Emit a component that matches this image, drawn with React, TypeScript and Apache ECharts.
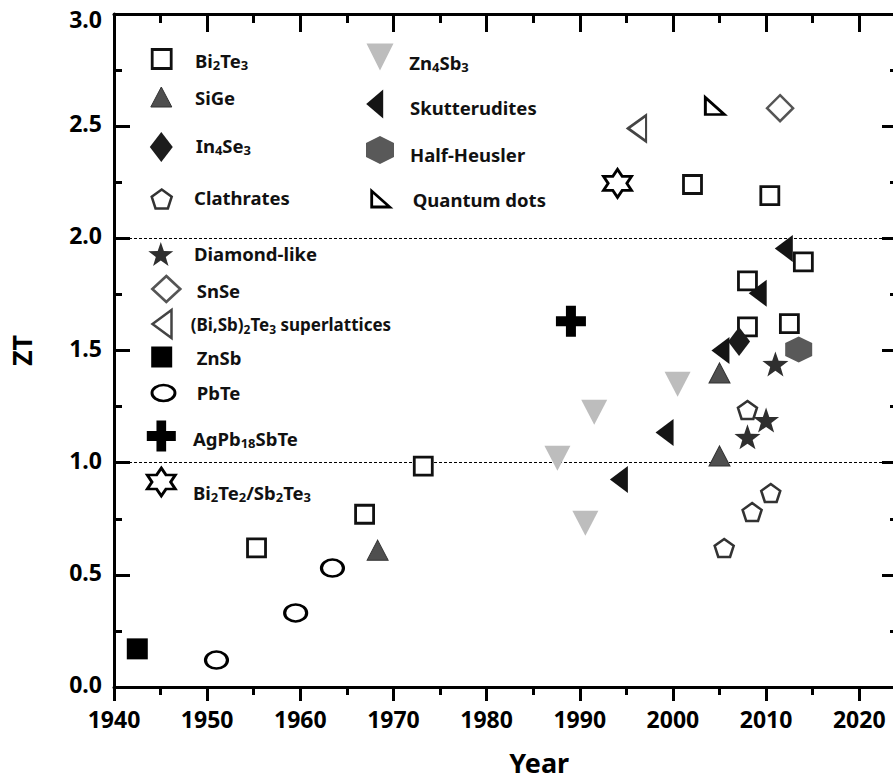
import React, { useEffect, useRef } from "react";
import * as echarts from "echarts";

const FONT = '"Noto Sans", "Open Sans", "DejaVu Sans", sans-serif';

// ---------------- data ----------------
const xTickLabels = [1940, 1950, 1960, 1970, 1980, 1990, 2000, 2010, 2020];
const yTickLabels = ["0.0", "0.5", "1.0", "1.5", "2.0", "2.5", "3.0"];
const refLines = [1.0, 2.0];

const bi2te3Year = [1955.3, 1966.9, 1973.2, 2002.1, 2010.4, 2008.0, 2014.0, 2008.0, 2012.5];
const bi2te3ZT = [0.62, 0.77, 0.985, 2.24, 2.19, 1.81, 1.895, 1.605, 1.62];
const siGeYear = [1968.3, 2005.0, 2005.0];
const siGeZT = [0.61, 1.4, 1.03];
const in4se3Year = [2007.1];
const in4se3ZT = [1.54];
const clathratesYear = [2005.5, 2008.5, 2010.5, 2008.0];
const clathratesZT = [0.62, 0.78, 0.865, 1.235];
const diamondLikeYear = [2008.0, 2010.0, 2011.0];
const diamondLikeZT = [1.115, 1.19, 1.44];
const snSeYear = [2011.5];
const snSeZT = [2.58];
const biSbTeSLYear = [1996.15];
const biSbTeSLZT = [2.49];
const znSbYear = [1942.5];
const znSbZT = [0.17];
const pbTeYear = [1951.0, 1959.5, 1963.45];
const pbTeZT = [0.12, 0.33, 0.53];
const agPbSbTeYear = [1989.05];
const agPbSbTeZT = [1.63];
const biTeSbTeYear = [1994.05];
const biTeSbTeZT = [2.245];
const zn4sb3Year = [1987.6, 1990.6, 1991.55, 2000.5];
const zn4sb3ZT = [1.02, 0.73, 1.225, 1.35];
const skutteruditeYear = [1994.2, 1999.1, 2005.1, 2009.1, 2011.9];
const skutteruditeZT = [0.925, 1.135, 1.5, 1.755, 1.955];
const halfHeuslerYear = [2013.5];
const halfHeuslerZT = [1.505];
const quantumDotYear = [2004.5];
const quantumDotZT = [2.59];

// ---------------- symbol outlines (path, natural width, natural height) ----------------
type Shape = { d: string; w: number; h: number };
const S: Record<string, Shape> = {
  square: { d: "M0,0L19,0L19,19L0,19Z", w: 19, h: 19 },
  triUp: { d: "M10.5,0L21,20L0,20Z", w: 21, h: 20 },
  diamond: { d: "M11,0L22,15L11,30L0,15Z", w: 22, h: 30 },
  pentagon: { d: "M9.51,0L19.02,6.91L15.39,18.09L3.63,18.09L0,6.91Z", w: 19.02, h: 18.09 },
  star: { d: "M9.51,0L11.86,6.76L19.02,6.91L13.31,11.24L15.39,18.09L9.51,14L3.63,18.09L5.71,11.24L0,6.91L7.16,6.76Z", w: 19.02, h: 18.09 },
  diamondSq: { d: "M13,0L26,13L13,26L0,13Z", w: 26, h: 26 },
  triLeftH: { d: "M0,14L19,0L19,28Z", w: 19, h: 28 },
  ellipse: { d: "M0,9A12,9 0 1 1 24,9A12,9 0 1 1 0,9Z", w: 24, h: 18 },
  plus: { d: "M10,0L20,0L20,10.5L30,10.5L30,20.5L20,20.5L20,31L10,31L10,20.5L0,20.5L0,10.5L10,10.5Z", w: 30, h: 31 },
  hexagram: { d: "M8.66,0L11.55,5L17.32,5L14.43,10L17.32,15L11.55,15L8.66,20L5.77,15L0,15L2.89,10L0,5L5.77,5Z", w: 17.32, h: 20 },
  triDown: { d: "M0,0L27,0L13.5,26Z", w: 27, h: 26 },
  triLeft: { d: "M0,14L17,0L17,28Z", w: 17, h: 28 },
  hexagon: { d: "M13,0L26,7L26,21L13,28L0,21L0,7Z", w: 26, h: 28 },
  triRight: { d: "M0,0L0,18L20,18Z", w: 20, h: 18 },
};

type Def = {
  name: string; label: string; years: number[]; zt: number[];
  shape: Shape; size: number[]; fill: string; stroke?: string; lw?: number;
  small?: boolean;
  // legend: icon centre, icon size, text start x, text centre y
  lg: { cx: number; cy: number; w: number; h: number; tx: number; ty: number };
};

const defs: Def[] = [
  { name: "Bi2Te3", label: "Bi{s|2}Te{s|3}", years: bi2te3Year, zt: bi2te3ZT, shape: S.square, size: [18, 18], fill: "#fff", stroke: "#111", lw: 2.8, lg: { cx: 161.7, cy: 59, w: 19, h: 19, tx: 195, ty: 60 } },
  { name: "SiGe", label: "SiGe", years: siGeYear, zt: siGeZT, shape: S.triUp, size: [21, 20], fill: "#4f4f4f", stroke: "#333", lw: 1, lg: { cx: 161.3, cy: 97, w: 21, h: 20, tx: 195, ty: 97 } },
  { name: "In4Se3", label: "In{s|4}Se{s|3}", years: in4se3Year, zt: in4se3ZT, shape: S.diamond, size: [22, 29], fill: "#1c1c1c", lg: { cx: 161.3, cy: 147, w: 23, h: 30, tx: 195.7, ty: 145 } },
  { name: "Clathrates", label: "Clathrates", years: clathratesYear, zt: clathratesZT, shape: S.pentagon, size: [19, 18], fill: "#fff", stroke: "#333", lw: 2.5, lg: { cx: 161.7, cy: 199, w: 20, h: 19, tx: 194, ty: 197 } },
  { name: "Diamond-like", label: "Diamond-like", years: diamondLikeYear, zt: diamondLikeZT, shape: S.star, size: [26, 25], fill: "#2f2f2f", lg: { cx: 160.8, cy: 254, w: 25, h: 24, tx: 194, ty: 253 } },
  { name: "SnSe", label: "SnSe", years: snSeYear, zt: snSeZT, shape: S.diamondSq, size: [26, 26], fill: "#fff", stroke: "#555", lw: 2.5, lg: { cx: 166.3, cy: 289, w: 28, h: 26, tx: 196.7, ty: 290 } },
  { name: "(Bi,Sb)2Te3 superlattices", label: "(Bi,Sb){s|2}Te{s|3} superlattices", small: true, years: biSbTeSLYear, zt: biSbTeSLZT, shape: S.triLeftH, size: [18, 26], fill: "#fff", stroke: "#444", lw: 2.5, lg: { cx: 162, cy: 324, w: 19, h: 28, tx: 190.7, ty: 324 } },
  { name: "ZnSb", label: "ZnSb", years: znSbYear, zt: znSbZT, shape: S.square, size: [21, 21], fill: "#000", lg: { cx: 161.7, cy: 357, w: 21, h: 21, tx: 196.7, ty: 357.5 } },
  { name: "PbTe", label: "PbTe", years: pbTeYear, zt: pbTeZT, shape: S.ellipse, size: [22, 17], fill: "#fff", stroke: "#000", lw: 2.8, lg: { cx: 163.5, cy: 393, w: 23, h: 16, tx: 196.7, ty: 392.5 } },
  { name: "AgPb18SbTe", label: "AgPb{s|18}SbTe", years: agPbSbTeYear, zt: agPbSbTeZT, shape: S.plus, size: [30, 31], fill: "#000", lg: { cx: 161.3, cy: 436, w: 29, h: 31, tx: 193, ty: 438 } },
  { name: "Bi2Te2/Sb2Te3", label: "Bi{s|2}Te{s|2}/Sb{s|2}Te{s|3}", years: biTeSbTeYear, zt: biTeSbTeZT, shape: S.hexagram, size: [28, 28], fill: "#fff", stroke: "#000", lw: 2.8, lg: { cx: 161.3, cy: 482, w: 28, h: 28, tx: 193, ty: 492 } },
  { name: "Zn4Sb3", label: "Zn{s|4}Sb{s|3}", years: zn4sb3Year, zt: zn4sb3ZT, shape: S.triDown, size: [26, 25], fill: "#bdbdbd", lg: { cx: 380, cy: 57, w: 27, h: 27, tx: 409.3, ty: 62 } },
  { name: "Skutterudites", label: "Skutterudites", years: skutteruditeYear, zt: skutteruditeZT, shape: S.triLeft, size: [18, 27], fill: "#141414", lg: { cx: 374.7, cy: 104, w: 17, h: 29, tx: 410, ty: 107 } },
  { name: "Half-Heusler", label: "Half-Heusler", years: halfHeuslerYear, zt: halfHeuslerZT, shape: S.hexagon, size: [27, 26], fill: "#595959", lg: { cx: 380, cy: 150, w: 28, h: 28, tx: 410, ty: 154 } },
  { name: "Quantum dots", label: "Quantum dots", years: quantumDotYear, zt: quantumDotZT, shape: S.triRight, size: [19, 17], fill: "#fff", stroke: "#000", lw: 2.8, lg: { cx: 380.7, cy: 199, w: 18, h: 16, tx: 412.7, ty: 199 } },
];

// register legend icon shapes once
let registered = false;
function registerIcons() {
  if (registered) return;
  defs.forEach((d, i) => {
    echarts.graphic.registerShape("lgIcon" + i, echarts.graphic.extendPath(d.shape.d, {}));
  });
  registered = true;
}

const axisFont = { color: "#000", fontSize: 23, fontWeight: "bold" as const, fontFamily: FONT };
const black3 = { color: "#000", width: 3 };

export default function App() {
  const ref = useRef<HTMLDivElement>(null);
  useEffect(() => {
    if (!ref.current) return;
    registerIcons();
    const chart = echarts.init(ref.current, undefined, { renderer: "svg" });

    const legendGraphics: any[] = [];
    defs.forEach((d, i) => {
      const fs = d.small ? 17 : 18.5;
      legendGraphics.push({
        type: "lgIcon" + i,
        x: d.lg.cx - d.lg.w / 2,
        y: d.lg.cy - d.lg.h / 2,
        scaleX: d.lg.w / d.shape.w,
        scaleY: d.lg.h / d.shape.h,
        silent: true,
        style: {
          fill: d.fill,
          stroke: d.stroke || null,
          lineWidth: d.stroke ? (d.lw as number) : 0,
          strokeNoScale: true,
        },
      });
      legendGraphics.push({
        type: "text",
        x: d.lg.tx,
        y: d.lg.ty,
        silent: true,
        style: {
          text: d.label,
          fill: "#111",
          fontSize: fs,
          fontWeight: "bold",
          fontFamily: FONT,
          align: "left",
          verticalAlign: "middle",
          lineHeight: 18,
          rich: {
            s: { fill: "#111", fontSize: Math.round(fs * 0.7), fontWeight: "bold", fontFamily: FONT, lineHeight: 8, padding: [10, 0, 0, 0] },
          },
        },
      });
    });

    const series: any[] = defs.map((d, i) => ({
      type: "scatter",
      name: d.name,
      xAxisIndex: 0,
      yAxisIndex: 0,
      symbol: "path://" + d.shape.d,
      symbolSize: d.size,
      data: d.years.map((y, k) => [y, d.zt[k]]),
      itemStyle: {
        color: d.fill,
        borderColor: d.stroke || d.fill,
        borderWidth: d.stroke ? d.lw : 0,
        opacity: 1,
      },
      z: 3,
      silent: true,
      ...(i === 0
        ? {
            markLine: {
              silent: true,
              symbol: ["none", "none"],
              label: { show: false },
              lineStyle: { color: "#000", width: 1.2, type: [3, 2] },
              data: refLines.map((v) => ({ yAxis: v })),
              z: 1,
            },
          }
        : {}),
    }));

    const lastY = yTickLabels.length - 1;

    chart.setOption({
      animation: false,
      backgroundColor: "#fff",
      grid: { left: 112, top: 14, width: 840.4, height: 677, containLabel: false },
      graphic: legendGraphics,
      xAxis: [
        {
          type: "value",
          position: "bottom",
          min: 1940,
          max: 2030,
          interval: 10,
          name: "Year",
          nameLocation: "middle",
          nameGap: 62,
          nameTextStyle: { color: "#000", fontSize: 27, fontWeight: "bold", fontFamily: FONT, padding: [0, 0, 0, 12] },
          axisLine: { onZero: false, lineStyle: black3 },
          axisTick: { inside: false, length: 14, lineStyle: black3 },
          minorTick: { show: true, splitNumber: 2, length: 8, lineStyle: black3 },
          splitLine: { show: false },
          axisLabel: {
            ...axisFont,
            margin: 20,
            formatter: (v: number) => (xTickLabels.includes(v) ? String(v) : ""),
          },
        },
        {
          type: "value",
          position: "top",
          min: 1940,
          max: 2030,
          interval: 10,
          axisLine: { onZero: false, lineStyle: black3 },
          axisTick: { inside: true, length: 18, lineStyle: black3 },
          minorTick: { show: true, splitNumber: 2, length: 9, lineStyle: black3 },
          splitLine: { show: false },
          axisLabel: { show: false },
        },
      ],
      yAxis: [
        {
          type: "value",
          position: "left",
          min: 0,
          max: 3,
          interval: 0.5,
          name: "ZT",
          nameLocation: "middle",
          nameGap: 79,
          nameTextStyle: { color: "#000", fontSize: 27, fontWeight: "bold", fontFamily: FONT },
          axisLine: { onZero: false, lineStyle: black3 },
          axisTick: { inside: true, length: 16, lineStyle: black3 },
          minorTick: { show: true, splitNumber: 2, length: 8, lineStyle: black3 },
          splitLine: { show: false },
          axisLabel: {
            ...axisFont,
            margin: 12,
            padding: [0, 0, 6, 0],
            formatter: (v: number) => {
              const i = Math.round(v * 2);
              const t = yTickLabels[i] ?? "";
              return i === lastY ? "{top|" + t + "}" : t;
            },
            rich: {
              top: { ...axisFont, padding: [15, 0, 0, 0] },
            },
          },
        },
        {
          type: "value",
          position: "right",
          offset: -54.4,
          min: 0,
          max: 3,
          interval: 0.5,
          axisLine: { onZero: false, lineStyle: black3 },
          axisTick: { inside: true, length: 16, lineStyle: black3 },
          minorTick: { show: true, splitNumber: 2, length: 8, lineStyle: black3 },
          splitLine: { show: false },
          axisLabel: { show: false },
        },
      ],
      series,
    });
    return () => chart.dispose();
  }, []);

  return (
    <div style={{ position: "absolute", left: 0, top: 0, width: 893, height: 781, overflow: "hidden", background: "#fff" }}>
      <div ref={ref} style={{ width: 970, height: 781 }} />
    </div>
  );
}
